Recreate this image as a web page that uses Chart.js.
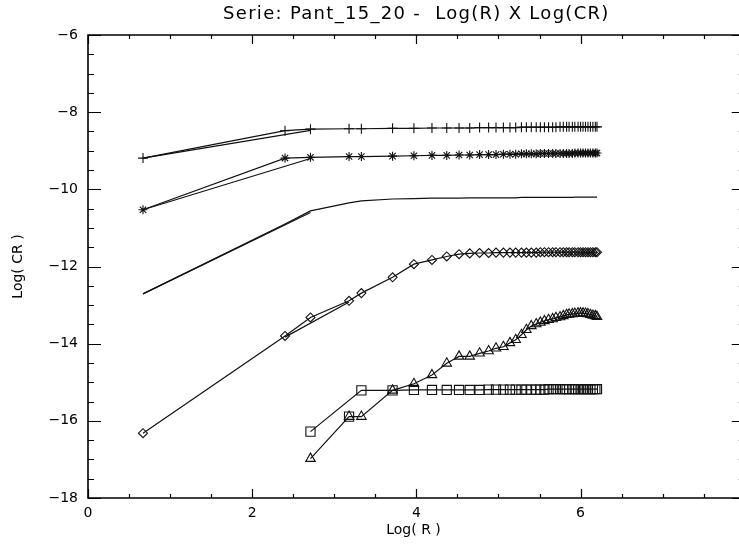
<!DOCTYPE html>
<html>
<head>
<meta charset="utf-8">
<title>Serie: Pant_15_20</title>
<script src="https://cdn.jsdelivr.net/npm/chart.js@4.4.0/dist/chart.umd.min.js"></script>
<style>
  html, body { margin: 0; padding: 0; background: #fff; overflow: hidden; }
  #wrap { width: 739px; height: 546px; }
</style>
</head>
<body>
<div id="wrap"><canvas id="grafico"></canvas></div>
<script>
// valores (x = Log(R), y = Log(CR))
const logR = [0.67, 2.40, 2.71, 3.18, 3.33, 3.71, 3.97, 4.19, 4.37, 4.52, 4.65,
  4.77, 4.88, 4.97, 5.06, 5.14, 5.21, 5.28, 5.34, 5.40, 5.46,
  5.51, 5.56, 5.61, 5.66, 5.70, 5.75, 5.79, 5.83, 5.86, 5.90,
  5.93, 5.97, 6.00, 6.03, 6.06, 6.09, 6.12, 6.15, 6.18, 6.20];

const cruzY = [-9.19, -8.48, -8.44, -8.43, -8.43, -8.42, -8.42, -8.41, -8.41, -8.41, -8.41,
  -8.40, -8.40, -8.40, -8.40, -8.40, -8.40, -8.39, -8.39, -8.39, -8.39,
  -8.39, -8.39, -8.39, -8.39, -8.39, -8.38, -8.38, -8.38, -8.38, -8.38,
  -8.38, -8.38, -8.38, -8.38, -8.38, -8.38, -8.38, -8.38, -8.38, -8.38];

const estrelaY = [-10.53, -9.19, -9.17, -9.15, -9.15, -9.14, -9.13, -9.12, -9.12, -9.11, -9.11,
  -9.10, -9.10, -9.10, -9.09, -9.09, -9.09, -9.08, -9.08, -9.08, -9.08,
  -9.07, -9.07, -9.07, -9.07, -9.07, -9.07, -9.07, -9.07, -9.07, -9.07,
  -9.06, -9.06, -9.06, -9.06, -9.06, -9.06, -9.06, -9.06, -9.06, -9.06];

const curvaY = [-12.71, -10.90, -10.56, -10.35, -10.30, -10.25, -10.24, -10.23, -10.23, -10.23, -10.22,
  -10.22, -10.22, -10.22, -10.22, -10.22, -10.22, -10.21, -10.21, -10.21, -10.21,
  -10.21, -10.21, -10.21, -10.21, -10.21, -10.21, -10.21, -10.21, -10.21, -10.21,
  -10.20, -10.20, -10.20, -10.20, -10.20, -10.20, -10.20, -10.20, -10.20, -10.20];

const losangoY = [-16.32, -13.80, -13.32, -12.89, -12.69, -12.28, -11.94, -11.83, -11.74, -11.68, -11.66,
  -11.65, -11.65, -11.64, -11.64, -11.64, -11.64, -11.64, -11.64, -11.64, -11.64,
  -11.63, -11.63, -11.63, -11.63, -11.63, -11.63, -11.63, -11.63, -11.63, -11.63,
  -11.63, -11.63, -11.63, -11.63, -11.63, -11.63, -11.63, -11.63, -11.63, -11.63];

const trianguloX = [2.71, 3.18, 3.33, 3.71, 3.97, 4.19, 4.37, 4.52, 4.65,
  4.77, 4.88, 4.97, 5.06, 5.14, 5.21, 5.28, 5.34, 5.40, 5.46,
  5.51, 5.56, 5.61, 5.66, 5.70, 5.75, 5.79, 5.83, 5.86, 5.90,
  5.93, 5.97, 6.00, 6.03, 6.06, 6.09, 6.12, 6.15, 6.18, 6.20];
const trianguloY = [-16.98, -15.89, -15.89, -15.21, -15.04, -14.81, -14.51, -14.33, -14.33,
  -14.25, -14.19, -14.12, -14.08, -13.98, -13.90, -13.77, -13.64, -13.54, -13.49,
  -13.45, -13.41, -13.38, -13.36, -13.33, -13.31, -13.28, -13.25, -13.24, -13.23,
  -13.22, -13.21, -13.21, -13.21, -13.22, -13.23, -13.25, -13.27, -13.28, -13.30];

const quadradoX = [2.71, 3.33, 3.71, 3.97, 4.19, 4.37, 4.52, 4.65,
  4.77, 4.88, 4.97, 5.06, 5.14, 5.21, 5.28, 5.34, 5.40, 5.46,
  5.51, 5.56, 5.61, 5.66, 5.70, 5.75, 5.79, 5.83, 5.86, 5.90,
  5.93, 5.97, 6.00, 6.03, 6.06, 6.09, 6.12, 6.15, 6.18, 6.20];
const quadradoY = [-16.28, -15.21, -15.21, -15.20, -15.20, -15.20, -15.20, -15.20,
  -15.20, -15.19, -15.19, -15.19, -15.19, -15.19, -15.19, -15.19, -15.19, -15.19,
  -15.19, -15.19, -15.18, -15.18, -15.18, -15.18, -15.18, -15.18, -15.18, -15.18,
  -15.18, -15.18, -15.18, -15.18, -15.18, -15.18, -15.18, -15.18, -15.18, -15.18];
const quadradoSoltoX = [3.18];
const quadradoSoltoY = [-15.89];

// segundo tracado (linhas duplas no inicio das curvas)
const cruzTracoX = [0.67, 2.71];
const cruzTracoY = [-9.19, -8.47];
const estrelaTracoX = [0.67, 2.71];
const estrelaTracoY = [-10.53, -9.20];
const curvaTracoX = [0.67, 2.71];
const curvaTracoY = [-12.71, -10.60];
const losangoTracoX = [2.40, 3.18];
const losangoTracoY = [-13.83, -12.92];

const xTicks = [0, 2, 4, 6];
const yTicks = [-18, -16, -14, -12, -10, -8, -6];
const xFimEixo = 8;   // eixo direito fica fora do recorte da imagem

const tituloTexto = 'Serie: Pant_15_20 -  Log(R) X Log(CR)';
const fonte = 'DejaVu Sans, Liberation Sans, sans-serif';

function pontos(xs, ys) {
    return xs.map((x, i) => ({ x: x, y: ys[i] }));
}

function serie(xs, ys, estilo, raio, linha) {
    return {
        data: pontos(xs, ys),
        showLine: linha,
        pointStyle: estilo,
        pointRadius: raio,
        pointHoverRadius: raio,
        borderColor: '#111',
        borderWidth: 1.2,
        pointBorderColor: '#111',
        pointBorderWidth: 1.1,
        pointBackgroundColor: 'rgba(0,0,0,0)',
        tension: 0,
        fill: false
    };
}

// moldura estilo IDL com marcas para dentro + titulo
const moldura = {
    id: 'moldura',
    afterDatasetsDraw(chart) {
        const { ctx, chartArea: a, scales: { x, y } } = chart;
        const xr = x.getPixelForValue(xFimEixo);
        ctx.save();
        ctx.strokeStyle = '#000';
        ctx.lineWidth = 1.6;
        ctx.beginPath();
        ctx.moveTo(a.left, a.top); ctx.lineTo(xr, a.top);
        ctx.lineTo(xr, a.bottom); ctx.lineTo(a.left, a.bottom);
        ctx.closePath();
        ctx.stroke();
        ctx.lineWidth = 1.2;
        ctx.beginPath();
        for (let v = 0; v <= xFimEixo + 1e-9; v += 0.5) {
            const px = Math.round(x.getPixelForValue(v)) + 0.5;
            const len = Math.abs(v % 2) < 1e-9 ? 9 : 4;
            ctx.moveTo(px, a.bottom); ctx.lineTo(px, a.bottom - len);
            ctx.moveTo(px, a.top); ctx.lineTo(px, a.top + len);
        }
        for (let v = y.min; v <= y.max + 1e-9; v += 0.5) {
            const py = Math.round(y.getPixelForValue(v)) + 0.5;
            const len = Math.abs(v % 2) < 1e-9 ? 13 : 6;
            ctx.moveTo(a.left, py); ctx.lineTo(a.left + len, py);
            ctx.moveTo(xr, py); ctx.lineTo(xr - len, py);
        }
        ctx.stroke();

        ctx.fillStyle = '#000';
        ctx.font = '18px ' + fonte;
        ctx.letterSpacing = '1.3px';
        ctx.textAlign = 'center';
        ctx.textBaseline = 'middle';
        ctx.fillText(tituloTexto, (a.left + xr) / 2, 14);
        ctx.restore();
    }
};

const ctx = document.getElementById('grafico').getContext('2d');
new Chart(ctx, {
    type: 'scatter',
    data: {
        datasets: [
            serie(cruzTracoX, cruzTracoY, false, 0, true),
            serie(estrelaTracoX, estrelaTracoY, false, 0, true),
            serie(curvaTracoX, curvaTracoY, false, 0, true),
            serie(losangoTracoX, losangoTracoY, false, 0, true),
            serie(logR, cruzY, 'cross', 5, true),
            serie(logR, estrelaY, 'star', 4.5, true),
            serie(logR, curvaY, false, 0, true),
            serie(logR, losangoY, 'rectRot', 4.5, true),
            serie(trianguloX, trianguloY, 'triangle', 5.5, true),
            serie(quadradoX, quadradoY, 'rect', 6.5, true),
            serie(quadradoSoltoX, quadradoSoltoY, 'rect', 6.5, false)
        ]
    },
    options: {
        responsive: true,
        maintainAspectRatio: false,
        animation: false,
        devicePixelRatio: 1,
        layout: { autoPadding: false, padding: { left: 0, right: 0, top: 35, bottom: 0 } },
        plugins: {
            legend: { display: false },
            tooltip: { enabled: false },
            title: { display: false }
        },
        scales: {
            x: {
                type: 'linear',
                min: 0,
                max: 7.93,
                grid: { display: false, drawTicks: false },
                border: { display: false },
                afterBuildTicks(scale) { scale.ticks = xTicks.map(v => ({ value: v })); },
                afterFit(scale) { scale.height = 48; },
                ticks: {
                    color: '#000',
                    padding: 7,
                    maxRotation: 0,
                    font: { family: fonte, size: 14 }
                },
                title: {
                    display: true,
                    text: 'Log( R )',
                    color: '#000',
                    font: { family: fonte, size: 14 },
                    padding: { top: 0, bottom: 7 }
                }
            },
            y: {
                type: 'linear',
                min: -18,
                max: -6,
                grid: { display: false, drawTicks: false },
                border: { display: false },
                afterBuildTicks(scale) { scale.ticks = yTicks.map(v => ({ value: v })); },
                afterFit(scale) { scale.width = 88; },
                ticks: {
                    color: '#000',
                    padding: 10,
                    font: { family: fonte, size: 14 },
                    callback: v => '\u2212' + Math.abs(v)
                },
                title: {
                    display: true,
                    text: 'Log( CR )',
                    color: '#000',
                    font: { family: fonte, size: 14 },
                    padding: { top: 10, bottom: 0 }
                }
            }
        }
    },
    plugins: [moldura]
});
</script>
</body>
</html>
